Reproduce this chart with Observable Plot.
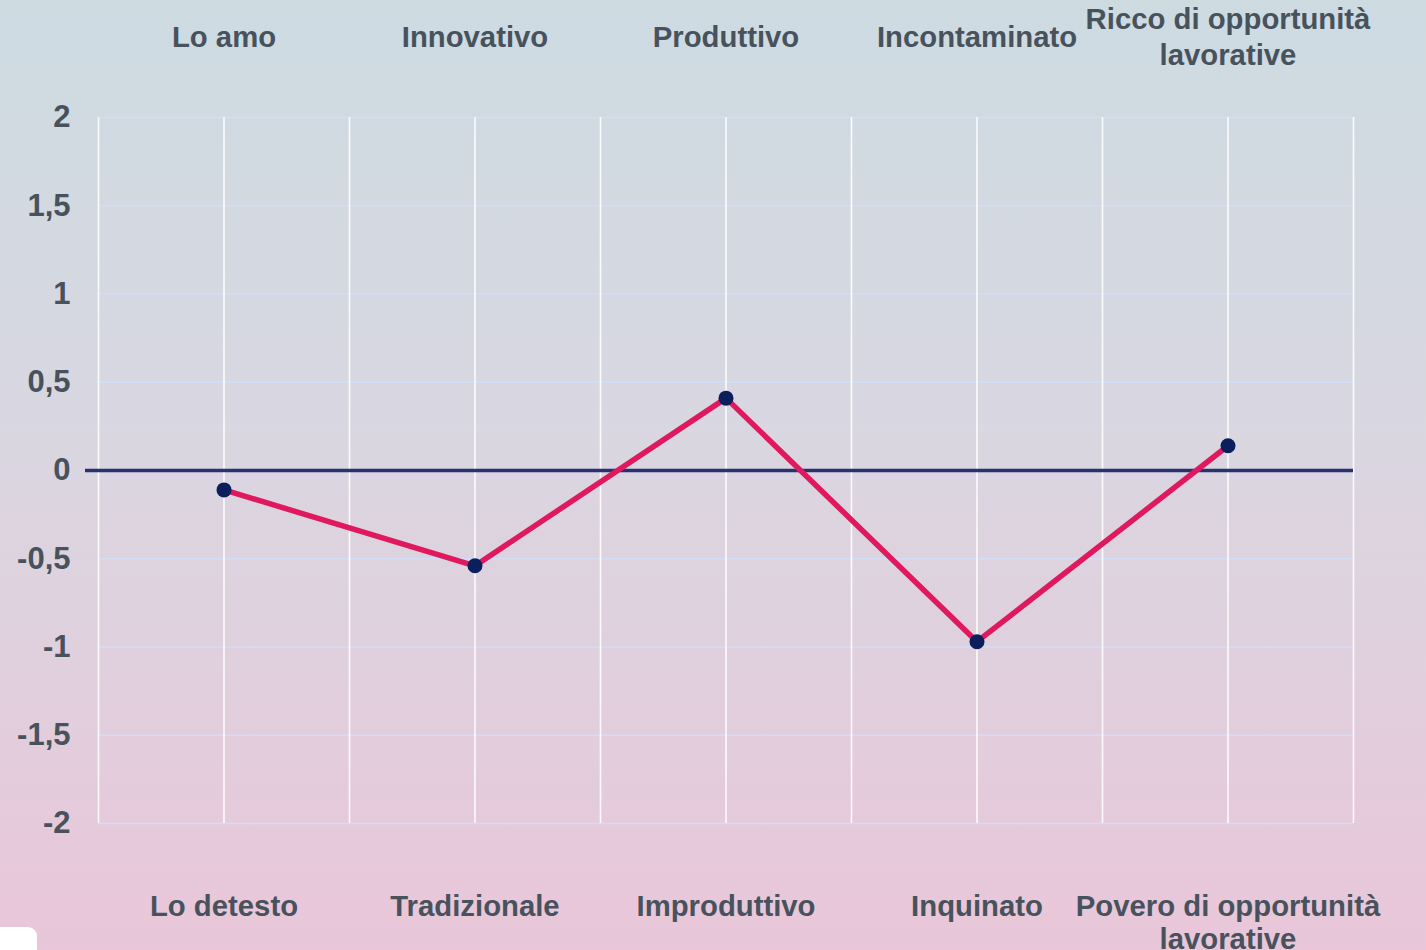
<!DOCTYPE html>
<html>
<head>
<meta charset="utf-8">
<script src="https://cdn.jsdelivr.net/npm/d3@7"></script>
<script src="https://cdn.jsdelivr.net/npm/@observablehq/plot@0.6"></script>
<style>
  html, body { margin: 0; padding: 0; }
  body {
    width: 1426px; height: 950px; overflow: hidden; position: relative;
    background: linear-gradient(to bottom, #cddbe1 0%, #d9d7e1 45%, #e9c6d9 100%);
    font-family: "Liberation Sans", Arial, sans-serif;
  }
  #chart svg { display: block; overflow: visible; }
  #corner {
    position: absolute; left: 0; top: 927px; width: 37px; height: 30px;
    background: #ffffff; border-top-right-radius: 9px;
  }
</style>
</head>
<body>
<div id="chart"></div>
<div id="corner"></div>
<script>
const topLabels = ["Lo amo", "Innovativo", "Produttivo", "Incontaminato", "Ricco di opportunità\nlavorative"];
const bottomLabels = ["Lo detesto", "Tradizionale", "Improduttivo", "Inquinato", "Povero di opportunità\nlavorative"];
const values = [-0.11, -0.54, 0.41, -0.97, 0.14];
const yTicks = [-2, -1.5, -1, -0.5, 0, 0.5, 1, 1.5, 2];
const xGrid = [0, 1, 2, 3, 4, 5, 6, 7, 8, 9, 10];

const data = values.map((v, i) => ({pos: 2 * i + 1, value: v, top: topLabels[i], bottom: bottomLabels[i]}));
const textColor = "#48525d";

const chart = Plot.plot({
  width: 1426,
  height: 950,
  marginLeft: 98,
  marginRight: 73,
  marginTop: 117,
  marginBottom: 127,
  x: {domain: [0, 10], axis: null},
  y: {domain: [-2, 2], axis: null},
  style: {background: "transparent", fontFamily: "'Liberation Sans', Arial, sans-serif", overflow: "visible"},
  marks: [
    Plot.ruleY(yTicks, {stroke: "#d3ddf5", strokeWidth: 1.5}),
    Plot.ruleX(xGrid, {stroke: "#ffffff", strokeWidth: 1.6, strokeOpacity: 0.9}),
    Plot.ruleY([0], {stroke: "#26336e", strokeWidth: 3.4, insetLeft: -13}),
    Plot.line(data, {x: "pos", y: "value", stroke: "#e0195f", strokeWidth: 5.5}),
    Plot.dot(data, {x: "pos", y: "value", r: 7.5, fill: "#0b1f5c", stroke: "none"}),
    Plot.axisY({
      ticks: yTicks, tickSize: 0, tickPadding: 28,
      tickFormat: d => String(d).replace(".", ","),
      fontSize: 31, fontWeight: "bold", fill: textColor, label: null
    }),
    Plot.text(data, {
      x: "pos", text: "top", frameAnchor: "top", dy: -82, lineAnchor: "middle",
      fontSize: 29.3, fontWeight: "bold", fill: textColor, lineHeight: 1.23
    }),
    Plot.text(data, {
      x: "pos", text: "bottom", frameAnchor: "bottom", dy: 70, lineAnchor: "top",
      fontSize: 29.3, fontWeight: "bold", fill: textColor, lineHeight: 1.1
    })
  ]
});
document.getElementById("chart").appendChild(chart);
</script>
</body>
</html>
